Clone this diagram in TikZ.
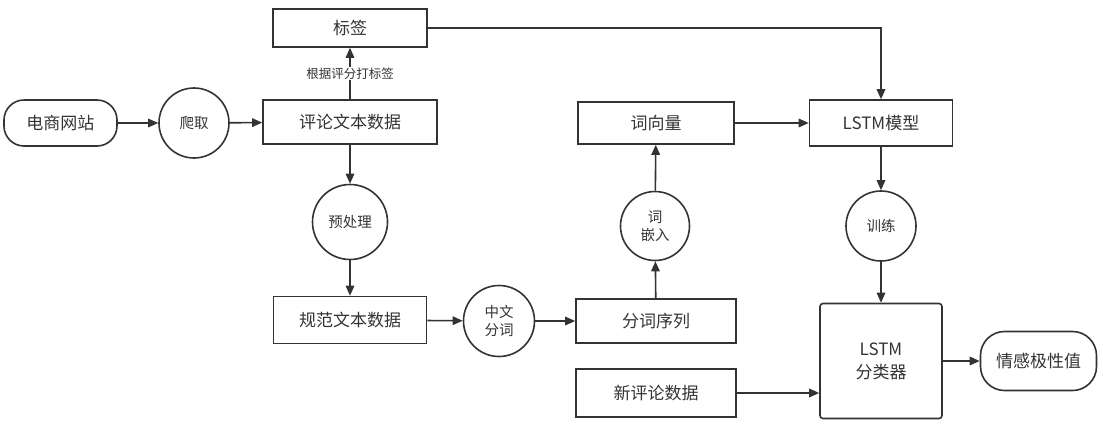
\documentclass[tikz,border=0pt]{standalone}
\usepackage{fontspec}
\setmainfont{Noto Sans CJK SC}
\usetikzlibrary{positioning, arrows.meta, shapes, calc}
\usepackage{xcolor}
\definecolor{ink}{HTML}{333333}

\tikzset{
  databox/.style={draw=ink, line width=1.6pt, minimum width=#1, inner sep=0pt, font=\fontsize{17}{21}\selectfont, text=ink},
  databox/.default=156pt,
  procnode/.style={draw=ink, circle, line width=1.6pt, minimum size=70pt, inner sep=0pt, align=center, font=\fontsize{14.5}{18}\selectfont, text=ink},
  endnode/.style={databox=#1, rounded corners=20pt},
  flow/.style={-{Triangle[length=10pt,width=8.5pt]}, line width=1.6pt, draw=ink}
}

\begin{document}
\begin{tikzpicture}[x=1pt, y=-1pt]
\useasboundingbox (0,0) rectangle (1103,429);

\node[endnode=113pt, minimum height=46pt] (site) at (60.5,123) {电商网站};
\node[procnode] (crawl) at (194,123) {爬取};
\node[databox=174pt, minimum height=44pt] (review) at (350,122) {评论文本数据};
\node[databox=154pt, minimum height=38pt] (tag) at (350,28) {标签};

\node[procnode, minimum size=75pt] (prep) at (350,222) {预处理};
\node[databox=153pt, minimum height=47pt] (norm) at (350,320) {规范文本数据};
\node[procnode, minimum size=71pt] (seg) at (499,321) {中文\\分词};
\node[databox=160pt, minimum height=44pt] (seq) at (656,321) {分词序列};
\node[databox=160pt, minimum height=48pt] (newrev) at (656,393) {新评论数据};

\node[procnode, minimum size=69pt] (embed) at (655,226) {词\\嵌入};
\node[databox=156pt, minimum height=42pt] (vec) at (656,123) {词向量};
\node[databox=143pt, minimum height=46pt] (lstm) at (881,123) {LSTM模型};
\node[procnode] (train) at (881,226) {训练};
\node[databox=122pt, minimum height=115pt, rounded corners=3pt, align=center, font=\fontsize{17}{23}\selectfont] (clf) at (881,361) {LSTM\\分类器};
\node[endnode=116pt, minimum height=59pt, rounded corners=24pt] (result) at (1038.5,361) {情感极性值};

\draw[flow] (site) -- (crawl);
\draw[flow] (crawl) -- (review);
\draw[flow] (review) -- node[fill=white, inner sep=1pt, text=ink, font=\fontsize{12.5}{14}\selectfont] {根据评分打标签} (tag);
\draw[flow] (tag) -| (lstm);
\draw[flow] (review) -- (prep);
\draw[flow] (prep) -- (norm);
\draw[flow] (norm) -- (seg);
\draw[flow] (seg) -- (seq);
\draw[flow] (seq) -- (embed);
\draw[flow] (embed) -- (vec);
\draw[flow] (vec) -- (lstm);
\draw[flow] (lstm) -- (train);
\draw[flow] (train) -- (clf);
\draw[flow] (newrev) -- (newrev -| clf.west);
\draw[flow] (clf) -- (result);
\end{tikzpicture}
\end{document}
